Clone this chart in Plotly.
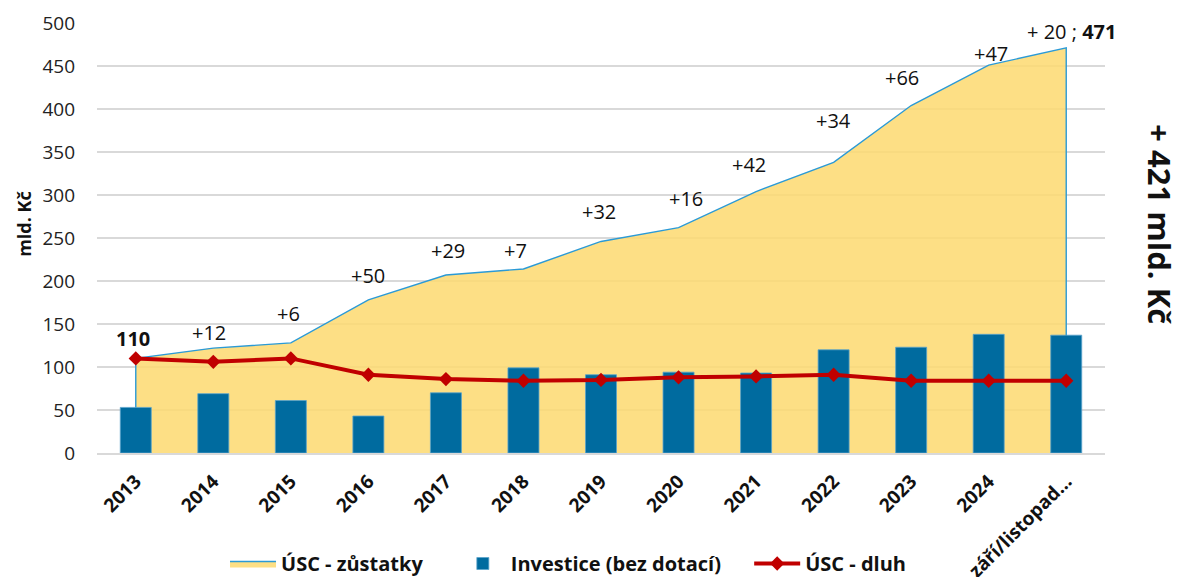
import plotly.graph_objects as go

categories = ["2013", "2014", "2015", "2016", "2017", "2018", "2019", "2020",
              "2021", "2022", "2023", "2024", "září/listopad…"]
balances = [110, 122, 128, 178, 207, 214, 246, 262, 304, 338, 404, 451, 471]
investment = [53, 69, 61, 43, 70, 99, 91, 94, 93, 120, 123, 138, 137]
debt = [110, 106, 110, 91, 86, 84, 85, 88, 89, 91, 84, 84, 84]
change_labels = ["<b>110</b>", "+12", "+6", "+50", "+29", "+7", "+32", "+16",
                 "+42", "+34", "+66", "+47", "+ 20 ; <b>471</b>"]
# label offsets (pixels) relative to the data point: (xshift, yshift)
label_shift = [(-3, 20), (-4, 16), (-2, 29), (0, 24), (2, 24), (-8, 18), (-2, 30),
               (7, 29), (-7, 27), (0, 42), (-9, 28), (2, 12), (5, 16)]

FONT = "Open Sans"
idx = list(range(len(categories)))
XR = [-0.5, len(categories) - 0.5]
YR = [0, 500]

fig = go.Figure()

# Area (base subplot, drawn below the bars): closed down to zero at both ends
area_x = [idx[0]] + idx + [idx[-1]]
area_y = [0] + balances + [0]
fig.add_trace(go.Scatter(
    x=area_x, y=area_y, mode="lines", fill="toself",
    fillcolor="rgba(253,217,112,0.85)",
    line=dict(color="#2B9AD6", width=1.4),
    name="ÚSC - zůstatky", hoverinfo="skip", xaxis="x", yaxis="y",
    legend="legend"))

fig.add_trace(go.Bar(
    x=idx, y=investment, name="Investice (bez dotací)",
    marker=dict(color="#006B9F", line=dict(color="#5AA3CB", width=0.8)),
    xaxis="x2", yaxis="y2", legend="legend2"))

fig.add_trace(go.Scatter(
    x=idx, y=debt, mode="lines+markers", name="ÚSC - dluh",
    line=dict(color="#C00000", width=4),
    marker=dict(symbol="diamond", size=11, color="#C00000"),
    xaxis="x2", yaxis="y2", legend="legend3"))

annotations = []
for i, v, t, (dx, dy) in zip(idx, balances, change_labels, label_shift):
    annotations.append(dict(
        x=i, y=v, xref="x", yref="y", text=t, showarrow=False,
        xshift=dx, yshift=dy, font=dict(family=FONT, size=20, color="#111111")))

annotations.append(dict(
    x=1.0545, y=0.532, xref="paper", yref="paper", text="<b>+ 421 mld. Kč</b>",
    xanchor="center", yanchor="middle",
    showarrow=False, textangle=90, font=dict(family=FONT, size=31, color="#111111")))
annotations.append(dict(
    x=-0.0724, y=0.533, xref="paper", yref="paper", text="<b>mld. Kč</b>",
    xanchor="center", yanchor="middle",
    showarrow=False, textangle=-90, font=dict(family=FONT, size=18, color="#111111")))

legend_font = dict(family=FONT, size=20, color="#111111", weight="bold")
legend_common = dict(orientation="h", y=-0.257, yanchor="middle", xanchor="left",
                     font=legend_font, itemwidth=46, bgcolor="rgba(0,0,0,0)")

# the page adds an 8px body margin, so the figure is 8px smaller than the window
fig.update_layout(
    width=1172, height=569,
    margin=dict(l=89, r=75, t=15, b=124, autoexpand=False),
    paper_bgcolor="white", plot_bgcolor="white",
    font=dict(family=FONT, color="#111111"),
    bargap=0.6,
    showlegend=True,
    legend=dict(x=0.127, **legend_common),
    legend2=dict(x=0.355, **legend_common),
    legend3=dict(x=0.647, **legend_common),
    annotations=annotations,
    xaxis=dict(
        range=XR, tickmode="array", tickvals=idx, ticktext=categories,
        tickangle=-45, showgrid=False, zeroline=False,
        showline=True, linecolor="#D9D9D9", linewidth=1.5,
        tickfont=dict(family=FONT, size=19, color="#111111", weight="bold"),
        ticklabelstandoff=8, automargin=False),
    yaxis=dict(
        range=YR, dtick=50, showgrid=True, gridcolor="#D9D9D9", gridwidth=1.5,
        zeroline=False, showline=False,
        tickfont=dict(family=FONT, size=19, color="#222222"),
        ticklabelstandoff=21, automargin=False),
    xaxis2=dict(range=XR, overlaying="x", matches="x", visible=False),
    yaxis2=dict(range=YR, overlaying="y", matches="y", visible=False),
)

fig.write_html("out.html")
